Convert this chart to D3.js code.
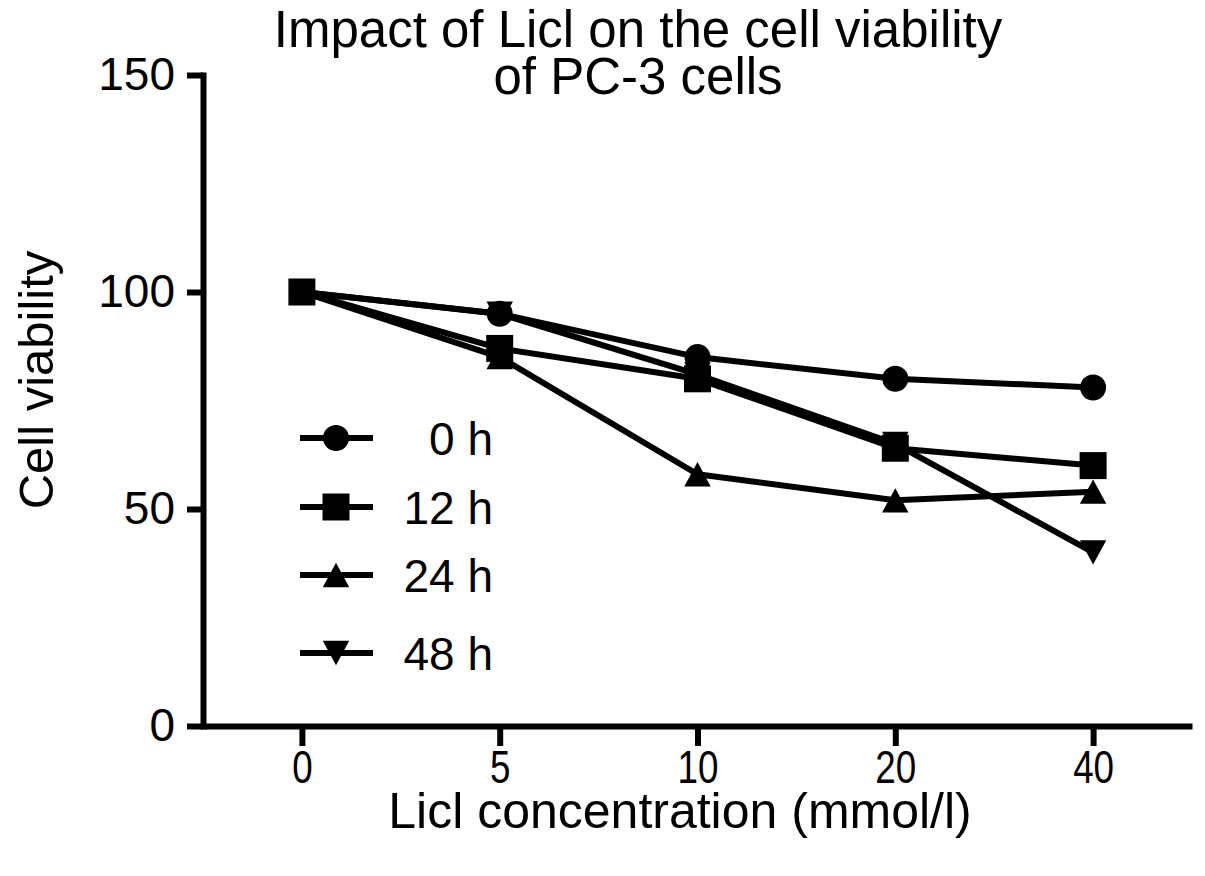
<!DOCTYPE html>
<html>
<head>
<meta charset="utf-8">
<script src="https://cdn.jsdelivr.net/npm/d3@7"></script>
<style>
  html, body { margin: 0; padding: 0; background: #fff; }
  text { font-family: "Liberation Sans", Arial, sans-serif; fill: #000; }
</style>
</head>
<body>
<div class="root"></div>
<script>
const concentrations = ['0', '5', '10', '20', '40']
const seriesNames = ['0 h', '12 h', '24 h', '48 h']
const viability0h = [100, 95, 85, 80, 78]
const viability12h = [100, 87, 80, 64, 60]
const viability24h = [100, 85, 58, 52, 54]
const viability48h = [100, 95, 81, 65, 40]
const yTicks = [0, 50, 100, 150]
const titleLines = ['Impact of Licl on the cell viability', 'of PC-3 cells']

const svgWidth = 1205
    , svgHeight = 876
    , margin = { top: 75, right: 13, bottom: 150, left: 203 }
    , graphWidth = svgWidth - margin.left - margin.right
    , graphHeight = svgHeight - margin.top - margin.bottom

const svg = d3.select('.root')
              .append('svg')
              .attr('width', svgWidth)
              .attr('height', svgHeight)

const canvas = svg.append('g')
                  .attr('transform', `translate(${margin.left}, ${margin.top})`)

const scaleX = d3.scalePoint()
                 .domain(concentrations)
                 .range([0, graphWidth])
                 .padding(0.5)

const scaleY = d3.scaleLinear()
                 .domain([0, 150])
                 .range([graphHeight, 0])

// prism style triangles, centred on their box so they sit inside the squares
const triangleUp = {
  draw (ctx, size) {
    const w = Math.sqrt(size) / 2, h = w * 0.92
    ctx.moveTo(0, -h)
    ctx.lineTo(w, h)
    ctx.lineTo(-w, h)
    ctx.closePath()
  }
}
const triangleDown = {
  draw (ctx, size) {
    const w = Math.sqrt(size) / 2, h = w * 0.92
    ctx.moveTo(0, h)
    ctx.lineTo(w, -h)
    ctx.lineTo(-w, -h)
    ctx.closePath()
  }
}

// axes
const yAxis = canvas.append('g')
                    .call(d3.axisLeft(scaleY).tickValues(yTicks).tickSize(16).tickSizeOuter(0).tickPadding(12))
const xAxis = canvas.append('g')
                    .attr('transform', `translate(0, ${graphHeight})`)
                    .call(d3.axisBottom(scaleX).tickSize(20).tickSizeOuter(0).tickPadding(4))

;[xAxis, yAxis].forEach(ax => {
  ax.selectAll('path, line').attr('stroke', '#000').attr('stroke-width', 6)
  ax.selectAll('text').attr('font-size', 46).attr('font-family', '"Liberation Sans", Arial, sans-serif')
})
yAxis.select('.domain').attr('stroke-linecap', 'square')
xAxis.selectAll('text').attr('font-size', 46).attr('transform', 'scale(0.8, 1)')

// lines + markers
const series = [
  { name: seriesNames[0], values: viability0h, symbol: d3.symbolCircle, size: 530 },
  { name: seriesNames[1], values: viability12h, symbol: d3.symbolSquare, size: 729 },
  { name: seriesNames[2], values: viability24h, symbol: triangleUp, size: 700 },
  { name: seriesNames[3], values: viability48h, symbol: triangleDown, size: 700 }
]

const line = d3.line()
               .x((d, i) => scaleX(concentrations[i]))
               .y(d => scaleY(d))

series.forEach(s => {
  const g = canvas.append('g')
  g.append('path')
   .attr('d', line(s.values))
   .attr('fill', 'none')
   .attr('stroke', '#000')
   .attr('stroke-width', 6)
   .attr('stroke-linejoin', 'round')
  g.selectAll('path.marker')
   .data(s.values)
   .enter()
   .append('path')
   .attr('class', 'marker')
   .attr('d', d3.symbol().type(s.symbol).size(s.size))
   .attr('transform', (d, i) => `translate(${scaleX(concentrations[i])}, ${scaleY(d)})`)
   .attr('fill', '#000')
})

// legend
const legendRowsY = [438, 507, 575, 653]
const legend = svg.append('g')
series.forEach((s, i) => {
  const row = legend.append('g').attr('transform', `translate(300, ${legendRowsY[i]})`)
  row.append('line')
     .attr('x1', 0).attr('x2', 73)
     .attr('stroke', '#000').attr('stroke-width', 6)
  row.append('path')
     .attr('d', d3.symbol().type(s.symbol).size(s.size))
     .attr('transform', 'translate(36, 0)')
     .attr('fill', '#000')
  row.append('text')
     .attr('x', 193)
     .attr('dy', '0.36em')
     .attr('text-anchor', 'end')
     .attr('font-size', 46)
     .text(s.name)
})

// title
svg.append('g')
   .selectAll('text')
   .data(titleLines)
   .enter()
   .append('text')
   .attr('x', 638)
   .attr('y', (d, i) => 47 + i * 47)
   .attr('text-anchor', 'middle')
   .attr('font-size', 51)
   .text(d => d)

// axis titles
svg.append('text')
   .attr('x', 680)
   .attr('y', 828)
   .attr('text-anchor', 'middle')
   .attr('font-size', 50)
   .text('Licl concentration (mmol/l)')

svg.append('text')
   .attr('transform', 'translate(53, 380) rotate(-90)')
   .attr('text-anchor', 'middle')
   .attr('font-size', 49)
   .text('Cell viability')
</script>
</body>
</html>
